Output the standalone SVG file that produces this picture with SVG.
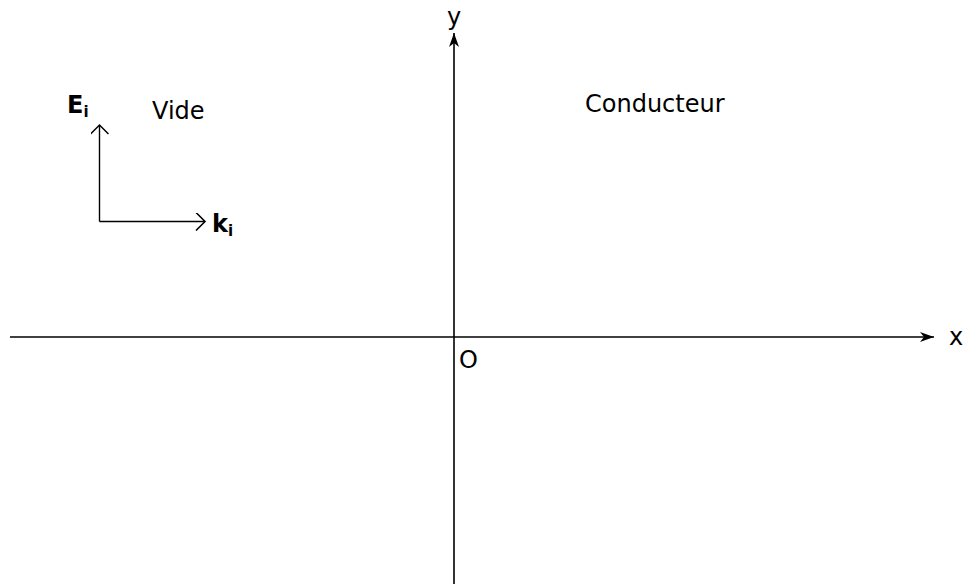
<svg xmlns="http://www.w3.org/2000/svg" width="963" height="587" viewBox="0 0 963 587">
<style>
text{font-family:"DejaVu Sans",sans-serif;font-size:24px;fill:#000}
.b{font-weight:bold}
.ax{stroke:#000;stroke-width:1.6;fill:none}
.v{stroke:#000;stroke-width:1.4;fill:none}
</style>
<defs>
<marker id="dart" markerUnits="userSpaceOnUse" markerWidth="16" markerHeight="12" refX="14" refY="5" orient="auto" viewBox="0 0 16 10">
<path d="M0,0 L14,5 L0,10 L4,5 Z" fill="#000"/>
</marker>
<marker id="open" markerUnits="userSpaceOnUse" markerWidth="14" markerHeight="18" refX="8" refY="8" orient="auto" viewBox="0 0 10 16">
<path d="M0,0 L8,8 L0,16" fill="none" stroke="#000" stroke-width="1.4"/>
</marker>
</defs>
<g id="connectors">
<line class="ax" x1="10" y1="337" x2="934" y2="337" marker-end="url(#dart)"/>
<line class="ax" x1="454" y1="584" x2="454" y2="33" marker-end="url(#dart)"/>
<line class="v" x1="99.5" y1="221.5" x2="99.5" y2="125" marker-end="url(#open)"/>
<line class="v" x1="99.5" y1="221.5" x2="205" y2="221.5" marker-end="url(#open)"/>
</g>
<g id="labels">
<text x="447" y="25">y</text>
<text x="949" y="345">x</text>
<text x="459" y="368">O</text>
<text x="152" y="119">Vide</text>
<text x="585" y="112">Conducteur</text>
<text class="b" x="67" y="113">E<tspan font-size="15" dy="4">i</tspan></text>
<text class="b" x="212" y="232">k<tspan font-size="15" dy="4">i</tspan></text>
</g>
</svg>
